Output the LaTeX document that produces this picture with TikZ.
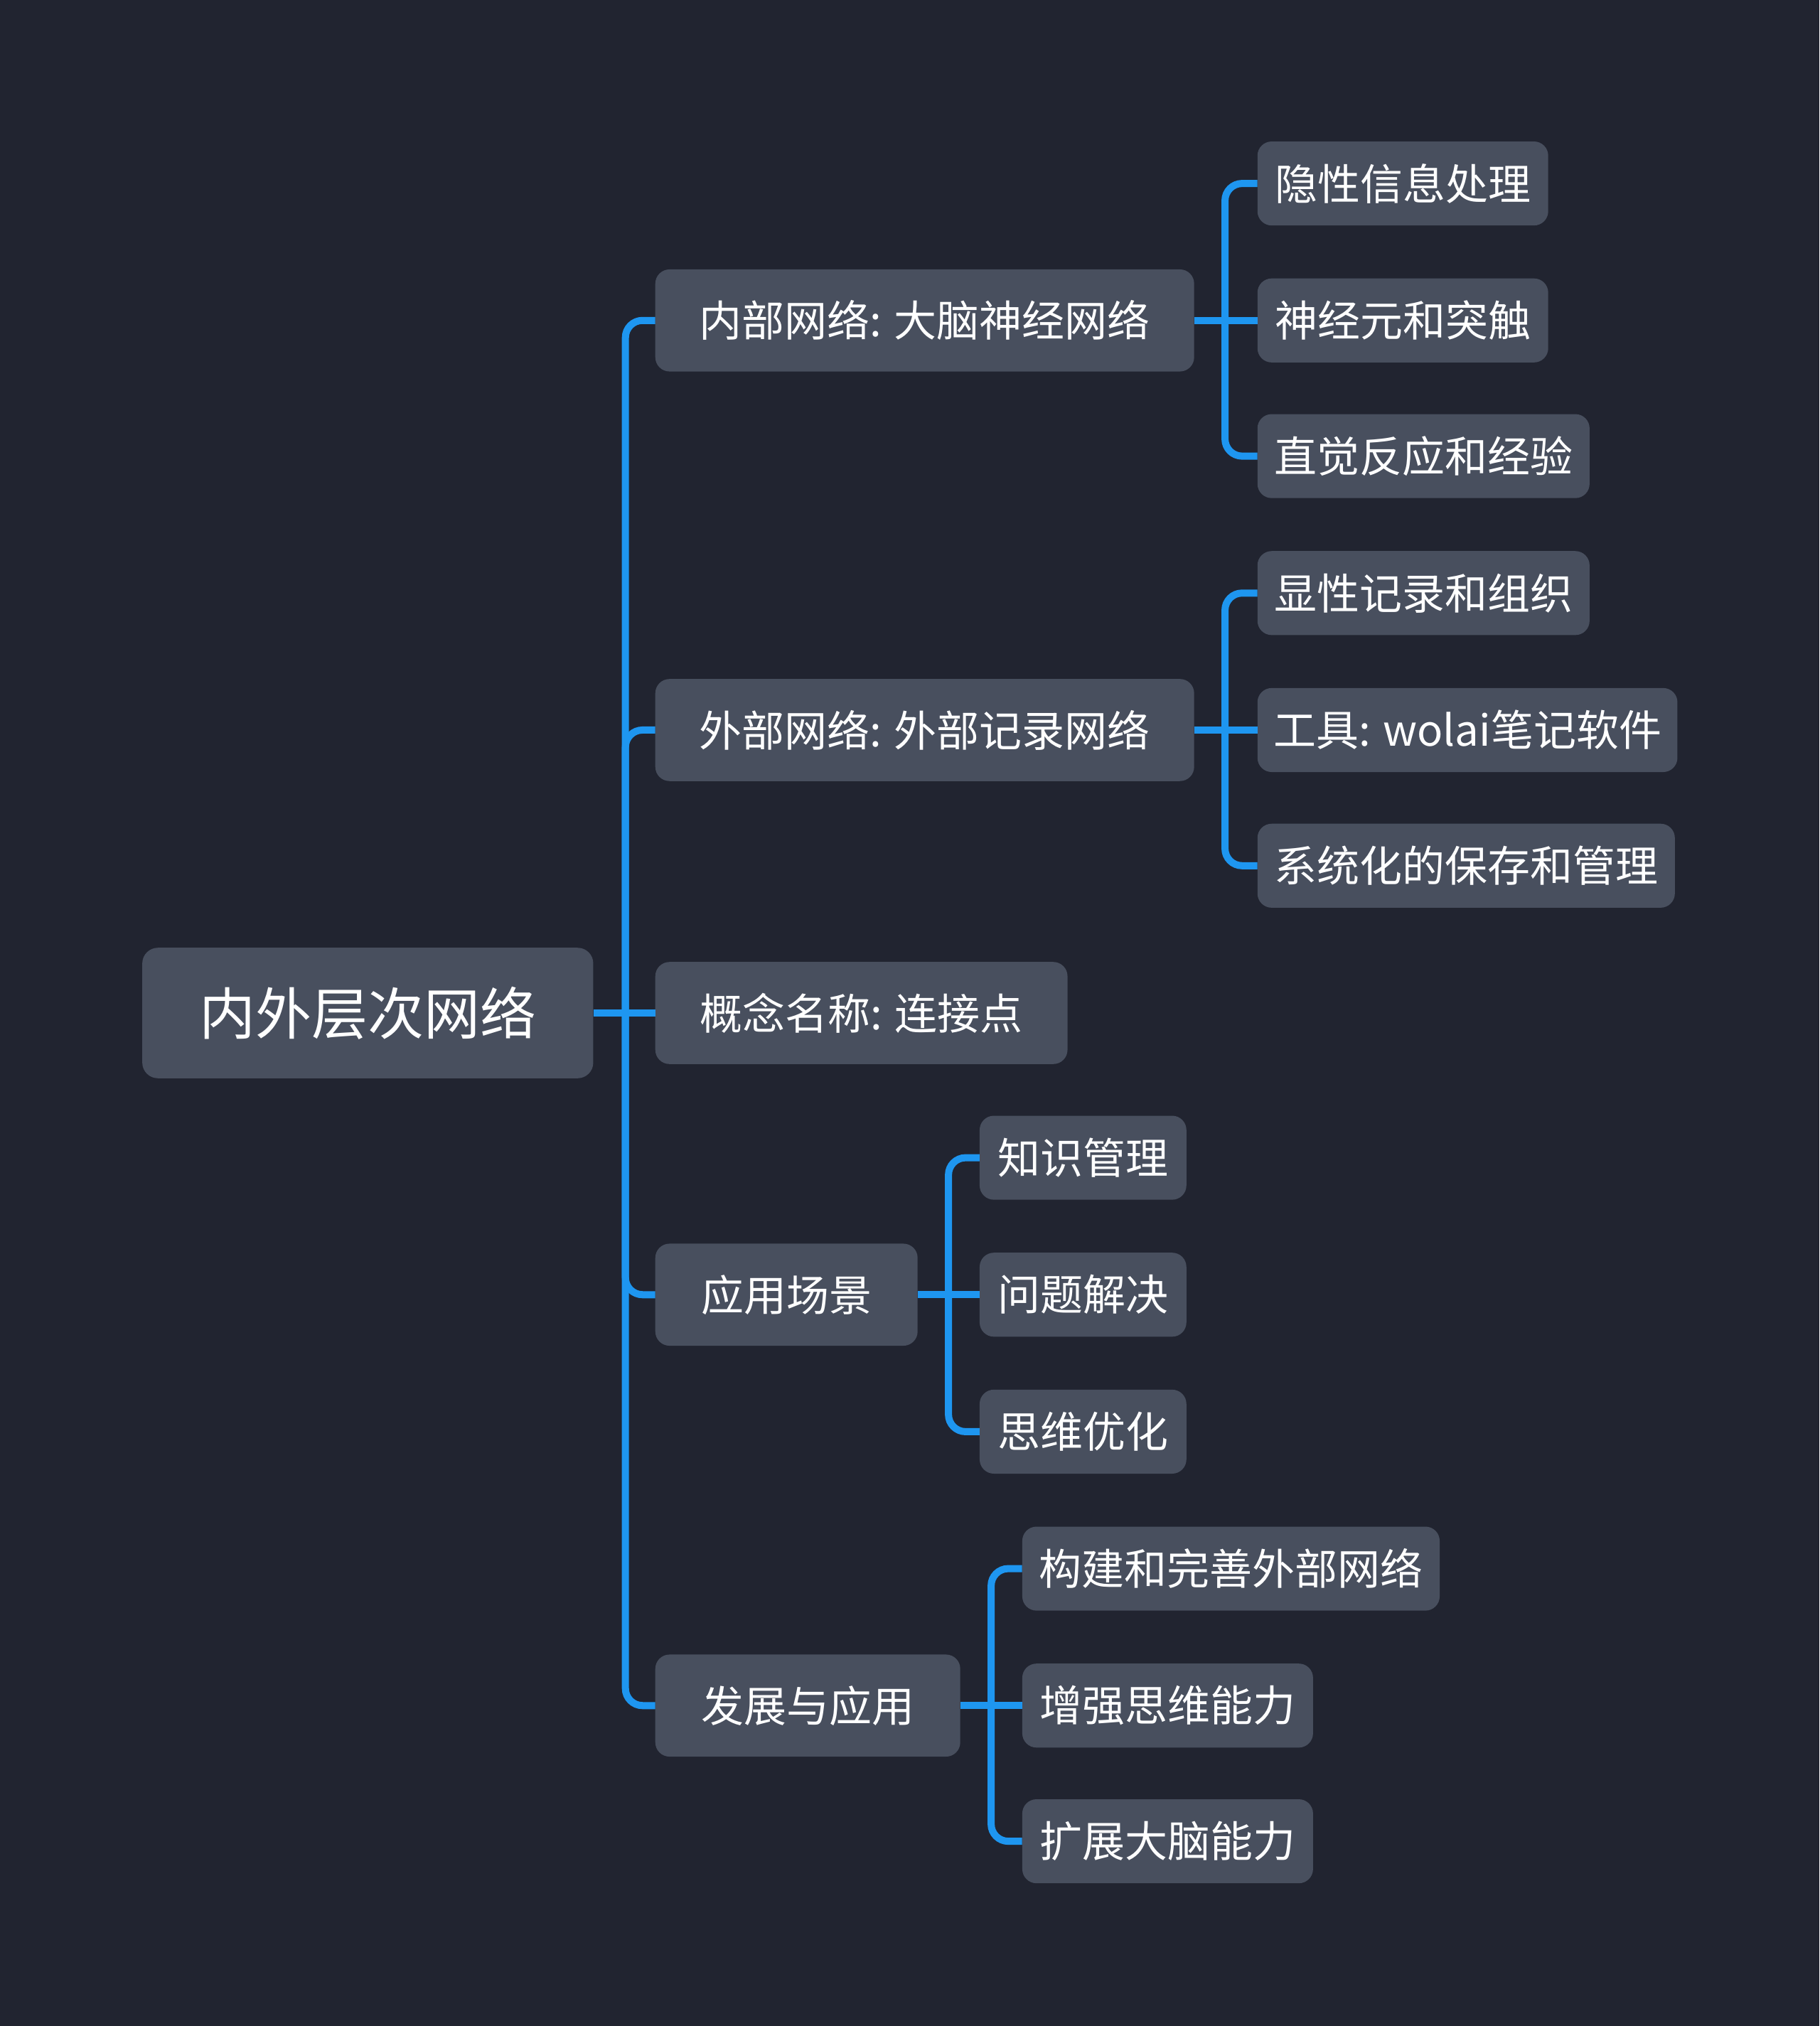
\documentclass[tikz,border=0pt]{standalone}
\usepackage{fontspec}
\newfontfamily\cjk{Noto Sans CJK SC}
\definecolor{bgc}{HTML}{212430}
\definecolor{boxc}{HTML}{484F5E}
\definecolor{linec}{HTML}{1E96F0}
\tikzset{
  base/.style={anchor=west, fill=boxc, text=white, inner sep=0pt, align=center, font=\cjk\fontsize{60}{70}\selectfont},
  rootbox/.style={base, rounded corners=22pt, font=\cjk\fontsize{79}{90}\selectfont},
  lvone/.style={base, rounded corners=20pt, minimum height=79*1.818pt},
  lvtwo/.style={base, rounded corners=20pt, minimum height=65*1.818pt},
  conn/.style={draw=linec, line width=10pt, rounded corners=24pt}
}
\begin{document}
\begin{tikzpicture}[x=1.818pt,y=-1.818pt]
\fill[bgc] (0,0) rectangle (1408,1568);
\useasboundingbox (0,0) rectangle (1408,1568);

% junction coordinates
\coordinate (j0) at (484,784);
\coordinate (ja) at (948,248);
\coordinate (jb) at (948,565);
\coordinate (jd) at (734,1002);
\coordinate (je) at (767,1320);

% root
\node[rootbox, minimum width=349*1.818pt, minimum height=101*1.818pt] (root) at (110,784) {内外层次网络};

% level 1
\node[lvone, minimum width=417*1.818pt] (a) at (507,248) {内部网络: 大脑神经网络};
\node[lvone, minimum width=417*1.818pt] (b) at (507,565) {外部网络: 外部记录网络};
\node[lvone, minimum width=319*1.818pt] (c) at (507,784) {概念名称: 连接点};
\node[lvone, minimum width=203*1.818pt] (d) at (507,1002) {应用场景};
\node[lvone, minimum width=236*1.818pt] (e) at (507,1320) {发展与应用};

% level 2 under a
\node[lvtwo, minimum width=225*1.818pt] (a1) at (973,142) {隐性信息处理};
\node[lvtwo, minimum width=225*1.818pt] (a2) at (973,248) {神经元和突触};
\node[lvtwo, minimum width=257*1.818pt] (a3) at (973,353) {直觉反应和经验};
% under b
\node[lvtwo, minimum width=257*1.818pt] (b1) at (973,459) {显性记录和组织};
\node[lvtwo, minimum width=325*1.818pt] (b2) at (973,565) {工具: wolai笔记软件};
\node[lvtwo, minimum width=323*1.818pt] (b3) at (973,670) {系统化的保存和管理};
% under d
\node[lvtwo, minimum width=160*1.818pt] (d1) at (758,896) {知识管理};
\node[lvtwo, minimum width=160*1.818pt] (d2) at (758,1002) {问题解决};
\node[lvtwo, minimum width=160*1.818pt] (d3) at (758,1108) {思维优化};
% under e
\node[lvtwo, minimum width=323*1.818pt] (e1) at (791,1214) {构建和完善外部网络};
\node[lvtwo, minimum width=225*1.818pt] (e2) at (791,1320) {增强思维能力};
\node[lvtwo, minimum width=225*1.818pt] (e3) at (791,1425) {扩展大脑能力};

% root connectors
\draw[conn] (root.east) -- (c.west);
\draw[conn] (j0) |- (a.west);
\draw[conn] (j0) |- (b.west);
\draw[conn] (j0) |- (d.west);
\draw[conn] (j0) |- (e.west);
% a
\draw[conn] (a.east) -- (a2.west);
\draw[conn] (ja) |- (a1.west);
\draw[conn] (ja) |- (a3.west);
% b
\draw[conn] (b.east) -- (b2.west);
\draw[conn] (jb) |- (b1.west);
\draw[conn] (jb) |- (b3.west);
% d
\draw[conn] (d.east) -- (d2.west);
\draw[conn] (jd) |- (d1.west);
\draw[conn] (jd) |- (d3.west);
% e
\draw[conn] (e.east) -- (e2.west);
\draw[conn] (je) |- (e1.west);
\draw[conn] (je) |- (e3.west);
\end{tikzpicture}
\end{document}
